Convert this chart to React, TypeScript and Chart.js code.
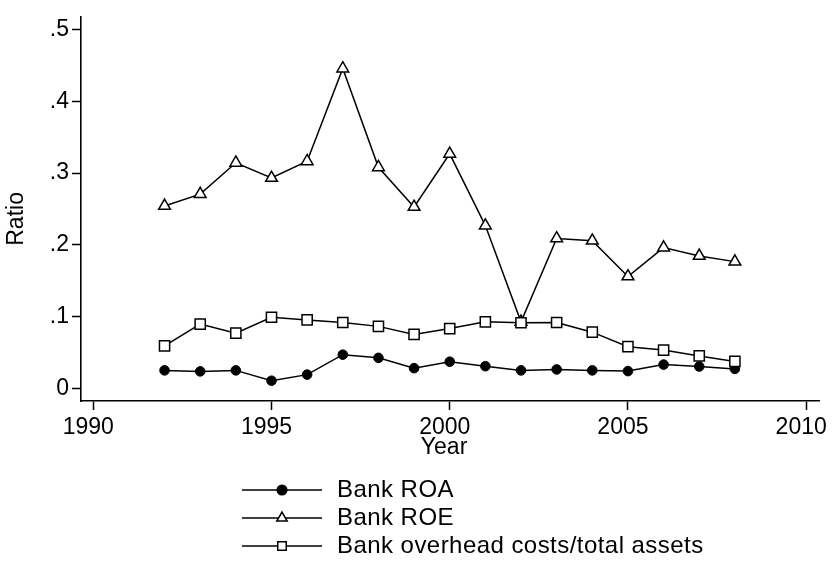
import React, { useEffect, useRef } from "react";
import { Chart, registerables } from "chart.js";

Chart.register(...registerables);

const years = [1992, 1993, 1994, 1995, 1996, 1997, 1998, 1999, 2000, 2001, 2002, 2003, 2004, 2005, 2006, 2007, 2008];
const bankROA = [0.0248, 0.0234, 0.0248, 0.0104, 0.0189, 0.0467, 0.0423, 0.0279, 0.0369, 0.0306, 0.0248, 0.0261, 0.0248, 0.0238, 0.0329, 0.0302, 0.0269];
const bankROE = [0.2542, 0.2707, 0.3144, 0.2932, 0.3165, 0.4459, 0.3081, 0.2528, 0.3269, 0.2268, 0.0925, 0.2088, 0.2057, 0.1558, 0.1961, 0.1845, 0.1765];
const bankOverhead = [0.0589, 0.0894, 0.0768, 0.0989, 0.0952, 0.0916, 0.0862, 0.075, 0.0831, 0.0925, 0.0912, 0.0916, 0.0781, 0.0579, 0.0531, 0.045, 0.0373];

const seriesNames = ["Bank ROA", "Bank ROE", "Bank overhead costs/total assets"];
const xTickValues = [1990, 1995, 2000, 2005, 2010];
const yTickValues = [0, 0.1, 0.2, 0.3, 0.4, 0.5];
const yTickLabels = ["0", ".1", ".2", ".3", ".4", ".5"];
const xTitle = "Year";
const yTitle = "Ratio";

const FONT = '"Liberation Sans", Arial, Helvetica, sans-serif';

function drawMarker(ctx: CanvasRenderingContext2D, style: string, x: number, y: number, r: number, fill: string) {
  ctx.save();
  ctx.beginPath();
  if (style === "circle") {
    ctx.arc(x, y, r, 0, Math.PI * 2);
  } else if (style === "triangle") {
    let a = 0;
    ctx.moveTo(x + Math.sin(a) * r, y - Math.cos(a) * r);
    a += (2 * Math.PI) / 3;
    ctx.lineTo(x + Math.sin(a) * r, y - Math.cos(a) * r);
    a += (2 * Math.PI) / 3;
    ctx.lineTo(x + Math.sin(a) * r, y - Math.cos(a) * r);
    ctx.closePath();
  } else {
    const s = r * Math.SQRT1_2;
    ctx.rect(x - s, y - s, 2 * s, 2 * s);
  }
  ctx.fillStyle = fill;
  ctx.fill();
  ctx.lineWidth = 1.5;
  ctx.strokeStyle = "#000";
  ctx.stroke();
  ctx.restore();
}

const decorPlugin = {
  id: "stataDecor",
  afterDraw(chart: any) {
    const ctx: CanvasRenderingContext2D = chart.ctx;
    const area = chart.chartArea;
    ctx.save();
    ctx.fillStyle = "#000";
    ctx.font = `23px ${FONT}`;
    ctx.textBaseline = "middle";
    // axis titles
    ctx.textAlign = "center";
    ctx.fillText(xTitle, (area.left + area.right) / 2 - 6, area.bottom + 47);
    ctx.save();
    ctx.translate(16.5, (area.top + area.bottom) / 2 + 10);
    ctx.rotate(-Math.PI / 2);
    ctx.fillText(yTitle, 0, 0);
    ctx.restore();

    // legend
    const lx0 = 242;
    const lx1 = 322;
    const mx = 282;
    const tx = 337;
    const rowY0 = area.bottom + 89;
    const rowGap = 28;
    const legendMarkers = [
      { style: "circle", r: 4.8, fill: "#000" },
      { style: "triangle", r: 6, fill: "#fff" },
      { style: "rect", r: 6, fill: "#fff" },
    ];
    ctx.font = `24px ${FONT}`;
    try {
      (ctx as any).letterSpacing = "0.45px";
    } catch (e) {}
    chart.data.datasets.forEach((ds: any, i: number) => {
      const y = rowY0 + i * rowGap;
      ctx.beginPath();
      ctx.moveTo(lx0, y);
      ctx.lineTo(lx1, y);
      ctx.lineWidth = 1.5;
      ctx.strokeStyle = "#000";
      ctx.stroke();
      const m = legendMarkers[i];
      drawMarker(ctx, m.style, mx, y, m.r, m.fill);
      ctx.textAlign = "left";
      ctx.fillStyle = "#000";
      ctx.fillText(ds.label, tx, y);
    });
    ctx.restore();
  },
};

export default function App() {
  const canvasRef = useRef<HTMLCanvasElement | null>(null);

  useEffect(() => {
    if (!canvasRef.current) return;
    const mk = (arr: number[]) => years.map((yr, i) => ({ x: yr, y: arr[i] }));
    const chart = new Chart(canvasRef.current, {
      type: "line",
      data: {
        datasets: [
          {
            label: seriesNames[0],
            data: mk(bankROA),
            borderColor: "#000",
            borderWidth: 1.5,
            pointStyle: "circle",
            pointRadius: 4.8,
            pointBackgroundColor: "#000",
            pointBorderColor: "#000",
            pointBorderWidth: 1,
            tension: 0,
            order: 2,
          },
          {
            label: seriesNames[1],
            data: mk(bankROE),
            borderColor: "#000",
            borderWidth: 1.5,
            pointStyle: "triangle",
            pointRadius: 6.8,
            pointBackgroundColor: "#fff",
            pointBorderColor: "#000",
            pointBorderWidth: 1.5,
            tension: 0,
            order: 1,
          },
          {
            label: seriesNames[2],
            data: mk(bankOverhead),
            borderColor: "#000",
            borderWidth: 1.5,
            pointStyle: "rect",
            pointRadius: 7.2,
            pointBackgroundColor: "#fff",
            pointBorderColor: "#000",
            pointBorderWidth: 1.5,
            tension: 0,
            order: 0,
          },
        ],
      },
      options: {
        animation: false,
        responsive: false,
        layout: { padding: { left: 0, top: 3, right: 14, bottom: 0 } },
        plugins: {
          legend: { display: false },
          tooltip: { enabled: false },
        },
        scales: {
          x: {
            type: "linear",
            position: "bottom",
            min: 1989.656,
            max: 2010.363,
            afterBuildTicks: (scale: any) => {
              scale.ticks = xTickValues.map((v) => ({ value: v }));
            },
            afterFit: (scale: any) => {
              scale.height = 168;
            },
            ticks: {
              callback: (v: any) => String(v),
              color: "#000",
              font: { family: FONT, size: 23 },
              padding: 4,
              labelOffset: -5,
              maxRotation: 0,
              autoSkip: false,
            },
            grid: {
              display: true,
              drawOnChartArea: false,
              drawTicks: true,
              tickLength: 9,
              tickColor: "#000",
              tickWidth: 1.5,
            },
            border: { display: true, color: "#000", width: 1.6 },
          },
          y: {
            type: "linear",
            min: -0.0179,
            max: 0.518,
            afterBuildTicks: (scale: any) => {
              scale.ticks = yTickValues.map((v) => ({ value: v }));
            },
            afterFit: (scale: any) => {
              scale.width = 81;
            },
            ticks: {
              callback: (v: any) => {
                const idx = yTickValues.findIndex((t) => Math.abs(t - v) < 1e-9);
                return idx >= 0 ? yTickLabels[idx] : "";
              },
              color: "#000",
              font: { family: FONT, size: 23 },
              padding: 3,
              autoSkip: false,
            },
            grid: {
              display: true,
              drawOnChartArea: false,
              drawTicks: true,
              tickLength: 9,
              tickColor: "#000",
              tickWidth: 1.5,
            },
            border: { display: true, color: "#000", width: 1.6 },
          },
        },
      },
      plugins: [decorPlugin],
    } as any);
    return () => chart.destroy();
  }, []);

  return (
    <div style={{ position: "fixed", left: 0, top: 0, width: 836, height: 569, background: "#fff" }}>
      <canvas ref={canvasRef} width={836} height={569} style={{ display: "block" }} />
    </div>
  );
}
